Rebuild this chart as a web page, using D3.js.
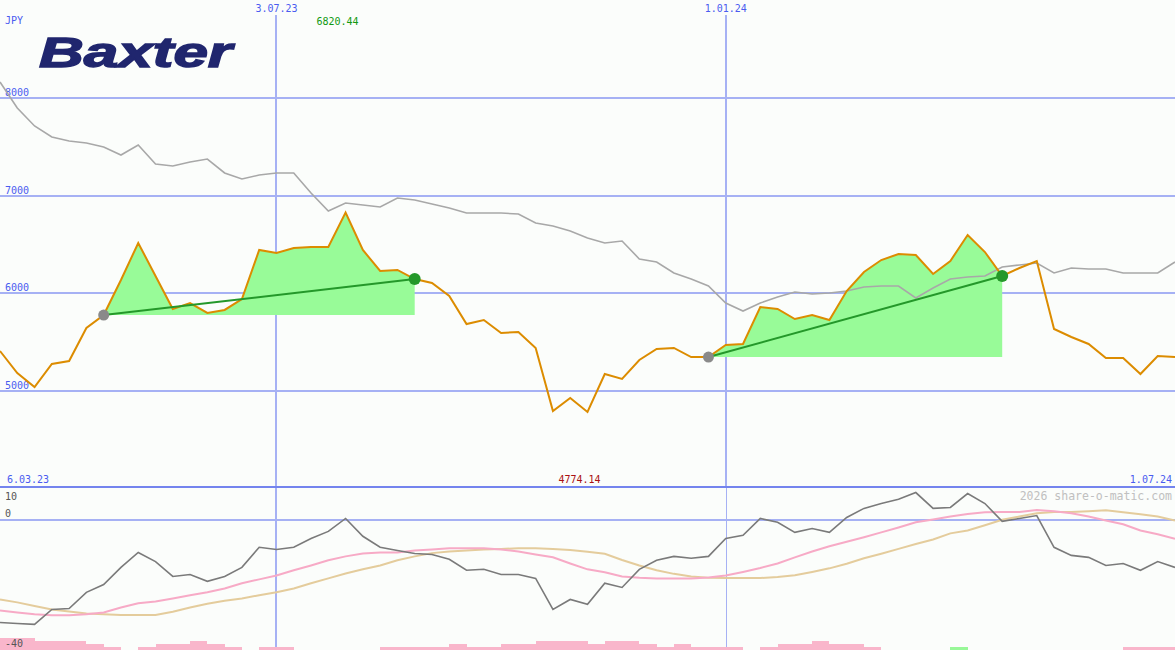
<!DOCTYPE html>
<html><head><meta charset="utf-8">
<script src="https://cdn.jsdelivr.net/npm/d3@7"></script>
<style>html,body{margin:0;padding:0;background:#fbfdfb;} svg{display:block;}</style>
</head><body><svg id="c" width="1175" height="650"></svg>
<script>
// ---- data ----
const startDate = new Date(Date.UTC(2023, 2, 13));
const endDate = new Date(Date.UTC(2024, 6, 1));
const currency = "JPY";
const company = "Baxter";
const priceTicks = [5000, 6000, 7000, 8000];
const dateTicks = [new Date(Date.UTC(2023, 6, 3)), new Date(Date.UTC(2024, 0, 1))];
const dateTickLabels = ["3.07.23", "1.01.24"];
const rangeLabels = ["6.03.23", "1.07.24"];
const maxLabel = "6820.44";
const minLabel = "4774.14";
const lowerTicks = [10, 0, -40];
const watermark = "2026 share-o-matic.com";

const price = [5400,5174,5031,5267,5297,5636,5769,6128,6508,6169,
  5831,5892,5790,5821,5933,6436,6405,6456,6467,6467,
  6820.44,6436,6221,6231,6138,6097,5964,5677,5718,5585,
  5595,5431,4785,4918,4774.14,5164,5113,5308,5421,5431,
  5338,5338,5462,5472,5851,5831,5728,5769,5718,6015,
  6210,6333,6395,6385,6190,6323,6590,6415,6169,6251,
  6323,5626,5544,5472,5328,5328,5164,5349,5338];

const avgLine = [8159,7892,7708,7595,7554,7533,7492,7410,7513,7318,
  7297,7338,7369,7226,7164,7205,7226,7226,7020,6836,
  6918,6897,6877,6969,6949,6908,6867,6815,6815,6815,
  6805,6713,6682,6631,6559,6508,6528,6344,6313,6200,
  6138,6067,5892,5810,5892,5954,6005,5985,5995,6015,
  6056,6067,6067,5944,6046,6138,6159,6169,6262,6282,
  6303,6200,6251,6241,6241,6200,6200,6200,6313];

const momentum = [-31.5,-31.8,-32.1,-27.5,-27.2,-22.2,-19.8,-14.5,-9.9,-12.7,
  -17.3,-16.7,-18.8,-17.3,-14.5,-8.3,-9.0,-8.3,-5.6,-3.4,
  0.6,-4.9,-8.3,-9.3,-10.2,-10.5,-12.0,-15.4,-15.1,-16.7,
  -16.7,-17.9,-27.5,-24.4,-25.9,-19.4,-20.7,-15.1,-12.3,-11.1,
  -11.7,-11.1,-5.6,-4.6,0.6,-0.6,-3.7,-2.5,-3.7,0.9,
  3.7,5.2,6.5,8.6,3.7,4.0,8.3,5.2,-0.3,0.6,
  1.5,-8.3,-10.8,-11.4,-13.9,-13.3,-15.4,-12.7,-14.5];

const signalFast = [-27.8,-28.4,-29.0,-29.3,-29.3,-29.0,-28.4,-26.9,-25.6,-25.0,
  -24.1,-23.1,-22.2,-21.0,-19.4,-18.2,-17.0,-15.4,-13.9,-12.3,
  -11.1,-10.2,-9.9,-9.9,-9.3,-9.0,-8.6,-8.6,-8.6,-9.0,
  -9.6,-10.5,-11.4,-13.3,-15.1,-16.0,-17.3,-17.7,-17.9,-17.9,
  -17.9,-17.6,-17.0,-15.9,-14.7,-13.3,-11.4,-9.6,-8.0,-6.6,
  -5.2,-3.7,-2.2,-0.6,0.3,1.2,2.0,2.5,2.6,2.6,
  3.2,2.8,2.2,1.2,0,-1.2,-3.1,-4.3,-5.7];

const signalSlow = [-24.4,-25.3,-26.4,-27.5,-28.1,-28.7,-29.0,-29.2,-29.2,-29.2,
  -28.2,-26.9,-25.7,-24.8,-24.1,-23.1,-22.2,-21.0,-19.4,-17.9,
  -16.4,-15.1,-13.9,-12.3,-11.1,-10.1,-9.6,-9.3,-9.0,-8.8,
  -8.6,-8.6,-8.8,-9.1,-9.7,-10.3,-12.2,-13.9,-15.4,-16.5,
  -17.3,-17.7,-17.8,-17.8,-17.8,-17.5,-16.9,-15.9,-14.8,-13.4,
  -11.7,-10.3,-8.8,-7.3,-5.9,-4.0,-3.1,-1.5,0.2,1.2,
  2.2,2.6,2.6,2.8,3.1,2.5,1.9,1.2,0];

const bars = [-4,-4,-3,-3,-3,-2,-1,0,-1,-2,
  -2,-3,-2,-1,0,-1,-1,0,0,0,
  0,0,-1,-1,-1,-1,-2,-1,-1,-2,
  -2,-3,-3,-3,-2,-3,-3,-2,-1,-2,
  -1,-1,-1,0,-1,-2,-2,-3,-2,-2,
  -1,0,0,0,0,1,0,0,0,0,
  0,0,0,0,0,-1,-1,-1];

const signalStart = [6, 41];
const signalEnd = [24, 58];

// ---- chart ----
const W = 1175, H = 650;
const dates = price.map((_, i) => d3.utcDay.offset(startDate, 7 * i));
const svg = d3.select("#c");
const x = d3.scaleUtc().domain([startDate, endDate]).range([0, W]);
const y = d3.scaleLinear().domain([5000, 8000]).range([390, 97.5]);
const yL = d3.scaleLinear().domain([-40, 10]).range([650, 488]);
const yBar = d3.scaleLinear().domain([0, 4]).range([0, 12]);

const mono = "'DejaVu Sans Mono', monospace";
const gridCol = "#a6b1f4";
const blue = "#4a5cf0";

svg.append("rect").attr("width", W).attr("height", H).attr("fill", "#fbfdfb");

// horizontal price grid
const yAxis = d3.axisRight(y).tickValues(priceTicks).tickSize(W).tickFormat(d3.format("d"));
const gy = svg.append("g").call(yAxis);
gy.select(".domain").remove();
gy.selectAll(".tick line").attr("stroke", gridCol).attr("stroke-width", 2).attr("shape-rendering", "crispEdges");
gy.selectAll(".tick text").attr("x", 5).attr("dy", -2).attr("text-anchor", "start")
  .attr("fill", blue).attr("font-family", mono).attr("font-size", 10);

// vertical date lines
svg.append("g").selectAll("line").data(dateTicks).join("line")
  .attr("x1", d => Math.round(x(d))).attr("x2", d => Math.round(x(d)))
  .attr("y1", 15).attr("y2", 487)
  .attr("stroke", gridCol).attr("stroke-width", 2).attr("shape-rendering", "crispEdges");
svg.append("g").selectAll("line").data(dateTicks).join("line")
  .attr("x1", d => Math.round(x(d))).attr("x2", d => Math.round(x(d)))
  .attr("y1", 487).attr("y2", H)
  .attr("stroke", gridCol).attr("stroke-width", (d, i) => i === 0 ? 2 : 1).attr("shape-rendering", "crispEdges");
svg.append("g").selectAll("text").data(dateTicks).join("text")
  .attr("x", d => x(d)).attr("y", 12).attr("text-anchor", "middle")
  .attr("fill", blue).attr("font-family", mono).attr("font-size", 10)
  .text((d, i) => dateTickLabels[i]);

// lower panel grid
svg.append("line").attr("x1", 0).attr("x2", W).attr("y1", yL(0)).attr("y2", yL(0))
  .attr("stroke", gridCol).attr("stroke-width", 2).attr("shape-rendering", "crispEdges");
svg.append("line").attr("x1", 0).attr("x2", W).attr("y1", 487).attr("y2", 487)
  .attr("stroke", "#7484ee").attr("stroke-width", 2).attr("shape-rendering", "crispEdges");

// bars
svg.append("g").selectAll("rect").data(bars).join("rect")
  .attr("x", (d, i) => x(dates[i])).attr("width", (d, i) => x(dates[i + 1]) - x(dates[i]))
  .attr("y", d => H - yBar(Math.abs(d))).attr("height", d => yBar(Math.abs(d)))
  .attr("fill", d => d > 0 ? "#98f898" : "#f9b6cb").attr("shape-rendering", "crispEdges");

// lower lines
const lineL = d3.line().x((d, i) => x(dates[i])).y(d => yL(d));
svg.append("path").datum(signalSlow).attr("d", lineL).attr("fill", "none").attr("stroke", "#e4cc9c").attr("stroke-width", 2);
svg.append("path").datum(signalFast).attr("d", lineL).attr("fill", "none").attr("stroke", "#f7aac6").attr("stroke-width", 2);
svg.append("path").datum(momentum).attr("d", lineL).attr("fill", "none").attr("stroke", "#7a7a7a").attr("stroke-width", 1.6);

// lower labels
svg.append("g").selectAll("text").data(lowerTicks).join("text")
  .attr("x", 5).attr("y", d => yL(d)).attr("dy", (d, i) => i === 0 ? 12 : -3)
  .attr("fill", "#555").attr("font-family", mono).attr("font-size", 10)
  .text(d => d);

// signal fills
const areaGen = s => d3.area().x(i => x(dates[i])).y0(y(price[s])).y1(i => y(price[i]));
signalStart.forEach((s, k) => {
  const idx = d3.range(s, signalEnd[k] + 1);
  svg.append("path").datum(idx).attr("d", areaGen(s)).attr("fill", "#98fb98");
});

// price lines
const lineP = d3.line().x((d, i) => x(dates[i])).y(d => y(d));
svg.append("path").datum(avgLine).attr("d", lineP).attr("fill", "none").attr("stroke", "#a8a8a8").attr("stroke-width", 1.6);
svg.append("path").datum(price).attr("d", lineP).attr("fill", "none").attr("stroke", "#dc8c00").attr("stroke-width", 2);

// trend lines and markers
signalStart.forEach((s, k) => {
  const e = signalEnd[k];
  svg.append("line").attr("x1", x(dates[s])).attr("y1", y(price[s]))
    .attr("x2", x(dates[e])).attr("y2", y(price[e]))
    .attr("stroke", "#24982a").attr("stroke-width", 2);
  svg.append("circle").attr("cx", x(dates[s])).attr("cy", y(price[s])).attr("r", 5.5).attr("fill", "#8a8a8a");
  svg.append("circle").attr("cx", x(dates[e])).attr("cy", y(price[e])).attr("r", 6).attr("fill", "#24982a");
});

// labels
svg.append("text").attr("x", 5).attr("y", 24).attr("fill", blue).attr("font-family", mono).attr("font-size", 10).text(currency);
const iMax = d3.maxIndex(price), iMin = d3.minIndex(price);
svg.append("text").attr("x", x(dates[iMax]) - 8).attr("y", 25).attr("text-anchor", "middle")
  .attr("fill", "#119911").attr("font-family", mono).attr("font-size", 10).text(maxLabel);
svg.append("text").attr("x", x(dates[iMin]) - 8).attr("y", 483).attr("text-anchor", "middle")
  .attr("fill", "#aa1111").attr("font-family", mono).attr("font-size", 10).text(minLabel);
svg.append("text").attr("x", 7).attr("y", 483).attr("fill", blue).attr("font-family", mono).attr("font-size", 10).text(rangeLabels[0]);
svg.append("text").attr("x", W - 3).attr("y", 483).attr("text-anchor", "end").attr("fill", blue).attr("font-family", mono).attr("font-size", 10).text(rangeLabels[1]);
svg.append("text").attr("x", W - 3).attr("y", 500).attr("text-anchor", "end").attr("fill", "#c0c0c0").attr("font-family", mono).attr("font-size", 11.5).text(watermark);

// logo
svg.append("text").attr("x", 39).attr("y", 67)
  .attr("font-family", "'Liberation Sans', Arial, sans-serif").attr("font-weight", "bold").attr("font-style", "italic")
  .attr("font-size", 42).attr("fill", "#20266e").attr("stroke", "#20266e").attr("stroke-width", 1.4)
  .attr("textLength", 193).attr("lengthAdjust", "spacingAndGlyphs")
  .text(company);
</script></body></html>
